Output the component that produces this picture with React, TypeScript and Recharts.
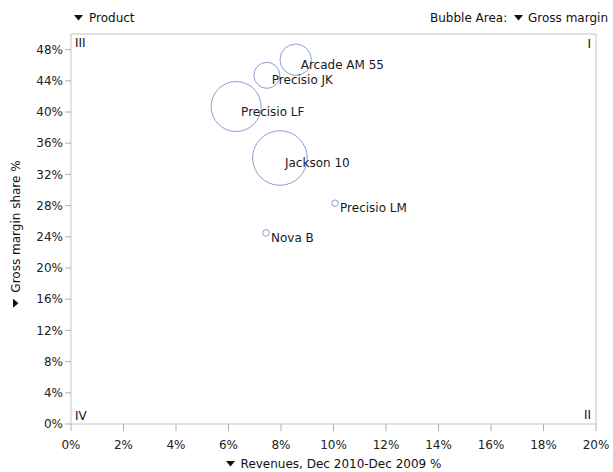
import React from "react";
import { ScatterChart, Scatter, XAxis, YAxis, ZAxis, ReferenceArea } from "recharts";

const FONT = "'DejaVu Sans', Verdana, sans-serif";

// products and their values
const products = ["Arcade AM 55", "Precisio JK", "Precisio LF", "Jackson 10", "Precisio LM", "Nova B"];
const revenueGrowth = [8.56, 7.46, 6.29, 7.96, 10.06, 7.43];
const marginShare = [46.7, 44.7, 40.7, 34.1, 28.3, 24.5];
const grossMargin = [248, 170, 630, 750, 11, 11];

const xTicks = [0, 2, 4, 6, 8, 10, 12, 14, 16, 18, 20];
const yTicks = [0, 4, 8, 12, 16, 20, 24, 28, 32, 36, 40, 44, 48];

const data = products.map((name, i) => ({
  name,
  x: revenueGrowth[i],
  y: marginShare[i],
  z: grossMargin[i],
}));

const Triangle = ({ style }: { style?: React.CSSProperties }) => (
  <svg width={9} height={6} style={{ display: "inline-block", ...style }}>
    <polygon points="0,0 9,0 4.5,5.5" fill="#111" />
  </svg>
);

const Bubble = (props: any) => {
  const { cx, cy, width, payload } = props;
  const r = width / 2;
  return (
    <g>
      <circle cx={cx} cy={cy} r={r} fill="none" stroke="#8a9ecf" strokeWidth={1} />
      <text x={cx + 5} y={cy + 9} fontSize={12} fill="#1a1a1a" fontFamily={FONT}>
        {payload.name}
      </text>
    </g>
  );
};

const tickStyle = { fill: "#222", fontSize: 12, fontFamily: FONT };

export default function App() {
  return (
    <div style={{ position: "absolute", left: 0, top: 0, width: 613, height: 472, fontFamily: FONT, fontSize: 12, color: "#111", background: "#fff" }}>
      <ScatterChart width={613} height={472} margin={{ top: 34, right: 17, bottom: 18, left: 26 }}>
        <XAxis
          type="number"
          dataKey="x"
          domain={[0, 20]}
          ticks={xTicks}
          tickFormatter={(v) => `${v}%`}
          tick={tickStyle}
          tickSize={7}
          tickMargin={9}
          tickLine={{ stroke: "#b0b0b0" }}
          axisLine={false}
          height={30}
          interval={0}
        />
        <YAxis
          type="number"
          dataKey="y"
          domain={[0, 50]}
          ticks={yTicks}
          tickFormatter={(v) => `${v}%`}
          tick={tickStyle}
          tickSize={6}
          tickLine={{ stroke: "#b0b0b0" }}
          axisLine={false}
          width={45}
          interval={0}
        />
        <ZAxis type="number" dataKey="z" domain={[0, 750]} range={[0, 2341]} />
        <ReferenceArea x1={0} x2={20} y1={0} y2={50} fill="none" stroke="#c4c4c4" strokeWidth={1}
          label={{ value: "III", position: "insideTopLeft", offset: 4, fill: "#111", fontSize: 12, fontFamily: FONT }} />
        <ReferenceArea x1={0} x2={20} y1={0} y2={50} fill="none" stroke="none"
          label={{ value: "I", position: "insideTopRight", offset: 5, fill: "#111", fontSize: 12, fontFamily: FONT }} />
        <ReferenceArea x1={0} x2={20} y1={0} y2={50} fill="none" stroke="none"
          label={{ value: "IV", position: "insideBottomLeft", offset: 4, fill: "#111", fontSize: 12, fontFamily: FONT }} />
        <ReferenceArea x1={0} x2={20} y1={0} y2={50} fill="none" stroke="none"
          label={{ value: "II", position: "insideBottomRight", offset: 5, fill: "#111", fontSize: 12, fontFamily: FONT }} />
        <Scatter data={data} shape={<Bubble />} isAnimationActive={false} />
      </ScatterChart>

      <div style={{ position: "absolute", left: 74, top: 11, lineHeight: "14px", whiteSpace: "nowrap" }}>
        <Triangle style={{ marginRight: 6, verticalAlign: 1 }} />Product
      </div>
      <div style={{ position: "absolute", right: 5, top: 11, lineHeight: "14px", whiteSpace: "nowrap" }}>
        Bubble Area: <Triangle style={{ marginLeft: 3, marginRight: 5, verticalAlign: 1 }} />Gross margin
      </div>
      <div style={{ position: "absolute", left: 71, width: 525, top: 457, lineHeight: "14px", textAlign: "center", whiteSpace: "nowrap" }}>
        <Triangle style={{ marginRight: 6, verticalAlign: 1 }} />Revenues, Dec 2010-Dec 2009 %
      </div>
      <div
        style={{
          position: "absolute",
          left: 16,
          top: 234,
          transform: "translate(-50%, -50%) rotate(-90deg)",
          lineHeight: "14px",
          whiteSpace: "nowrap",
        }}
      >
        <Triangle style={{ marginRight: 6, verticalAlign: 1 }} />Gross margin share %
      </div>
    </div>
  );
}
